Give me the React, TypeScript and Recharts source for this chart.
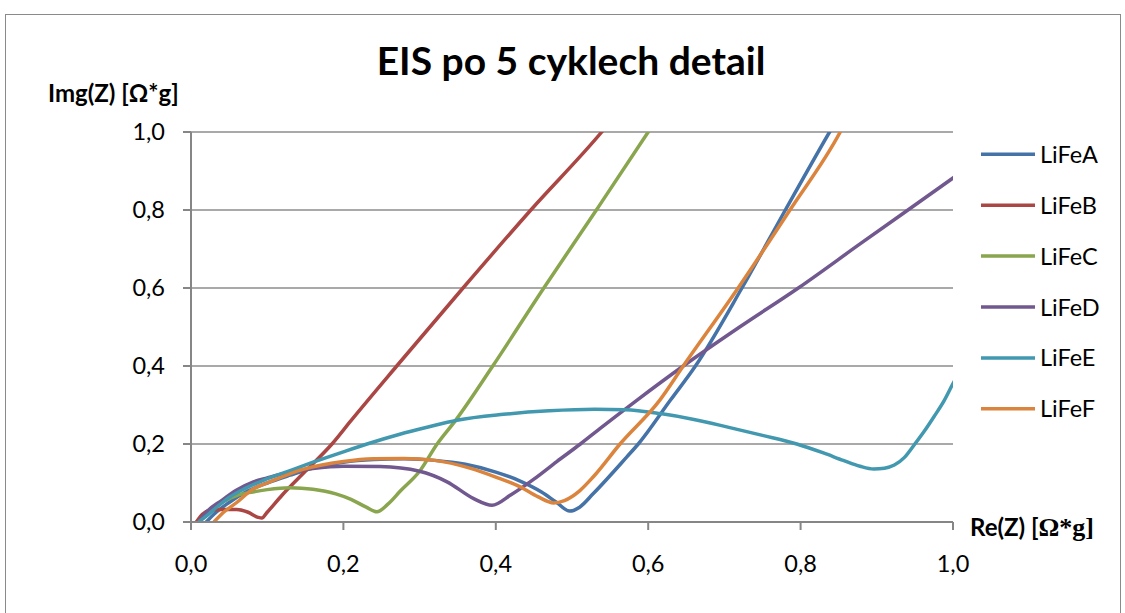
import { CartesianGrid, Line, LineChart, XAxis, YAxis } from "recharts";

// Nyquist data: [Re(Z), Img(Z)]
const lifeA: [number, number][] = [
  [0.02, 0], [0.03, 0.02], [0.05, 0.05], [0.07, 0.075], [0.1, 0.1], [0.13, 0.12], [0.16, 0.138],
  [0.2, 0.153], [0.24, 0.16], [0.28, 0.162], [0.32, 0.158], [0.36, 0.148], [0.4, 0.128],
  [0.432, 0.105], [0.46, 0.077], [0.48, 0.05], [0.497, 0.028], [0.51, 0.038], [0.528, 0.073],
  [0.572, 0.167], [0.587, 0.2], [0.629, 0.312], [0.662, 0.4], [0.723, 0.6], [0.78, 0.8],
  [0.838, 1.0], [0.85, 1.04],
];
const lifeB: [number, number][] = [
  [0.007, 0], [0.015, 0.02], [0.025, 0.03], [0.04, 0.032], [0.06, 0.032], [0.075, 0.025],
  [0.088, 0.012], [0.093, 0.01], [0.1, 0.025], [0.12, 0.07], [0.15, 0.13], [0.185, 0.2],
  [0.21, 0.26], [0.27, 0.4], [0.357, 0.6], [0.446, 0.8], [0.539, 1.0], [0.56, 1.05],
];
const lifeC: [number, number][] = [
  [0.01, 0], [0.02, 0.02], [0.04, 0.05], [0.06, 0.068], [0.081, 0.077], [0.1, 0.083], [0.13, 0.088],
  [0.16, 0.084], [0.19, 0.072], [0.21, 0.058], [0.23, 0.038], [0.244, 0.026], [0.258, 0.045],
  [0.275, 0.08], [0.3, 0.13], [0.323, 0.2], [0.347, 0.26], [0.396, 0.4], [0.463, 0.6],
  [0.532, 0.8], [0.6, 1.0], [0.62, 1.06],
];
const lifeD: [number, number][] = [
  [0.01, 0], [0.02, 0.025], [0.04, 0.055], [0.06, 0.082], [0.082, 0.103], [0.1, 0.113],
  [0.13, 0.128], [0.16, 0.137], [0.2, 0.143], [0.248, 0.142], [0.3, 0.13], [0.336, 0.103],
  [0.371, 0.06], [0.395, 0.043], [0.42, 0.07], [0.45, 0.11], [0.48, 0.155], [0.511, 0.2],
  [0.537, 0.24], [0.585, 0.312], [0.646, 0.4], [0.72, 0.5], [0.797, 0.6], [0.878, 0.713],
  [1.0, 0.882], [1.02, 0.91],
];
const lifeE: [number, number][] = [
  [0.01, 0], [0.02, 0.015], [0.035, 0.04], [0.051, 0.064], [0.07, 0.085], [0.095, 0.107],
  [0.13, 0.132], [0.161, 0.154], [0.2, 0.18], [0.231, 0.2], [0.274, 0.225], [0.31, 0.243],
  [0.349, 0.261], [0.41, 0.276], [0.47, 0.285], [0.53, 0.289], [0.57, 0.288], [0.616, 0.278],
  [0.66, 0.263], [0.703, 0.244], [0.75, 0.222], [0.795, 0.2], [0.83, 0.177], [0.856, 0.158],
  [0.878, 0.143], [0.896, 0.136], [0.91, 0.138], [0.923, 0.146], [0.936, 0.165], [0.948, 0.195],
  [0.962, 0.232], [0.975, 0.27], [0.988, 0.31], [1.0, 0.355], [1.01, 0.39],
];
const lifeF: [number, number][] = [
  [0.03, 0], [0.04, 0.02], [0.06, 0.05], [0.082, 0.085], [0.1, 0.1], [0.147, 0.135], [0.2, 0.155],
  [0.24, 0.162], [0.279, 0.163], [0.32, 0.158], [0.366, 0.138], [0.4, 0.115], [0.432, 0.09],
  [0.455, 0.065], [0.476, 0.049], [0.49, 0.055], [0.51, 0.08], [0.528, 0.116], [0.563, 0.2],
  [0.615, 0.312], [0.646, 0.4], [0.718, 0.6], [0.786, 0.8], [0.852, 1.0], [0.86, 1.03],
];

const seriesNames = ["LiFeA", "LiFeB", "LiFeC", "LiFeD", "LiFeE", "LiFeF"];
const seriesColors = ["#4572A7", "#AA4643", "#89A54E", "#71588F", "#4198AF", "#DB843D"];
const seriesData = [lifeA, lifeB, lifeC, lifeD, lifeE, lifeF];
const axisTicks = [0, 0.2, 0.4, 0.6, 0.8, 1.0];

const font = "Lato, 'Open Sans', sans-serif";
const axisGray = "#868686";
const tickStyle = { fill: "#000", fontSize: 23.5, fontFamily: font };
const fmt = (v: number) => v.toFixed(1).replace(".", ",");

export default function App() {
  return (
    <div style={{ position: "absolute", left: 0, top: 0, width: 1125, height: 613, overflow: "hidden", background: "#fff" }}>
      <div style={{ position: "absolute", left: 5, top: 14, width: 1116, height: 700, boxSizing: "border-box", border: "1px solid #8a8a8a" }}/>
      <LineChart width={1125} height={613} margin={{ top: 132, right: 172, bottom: 61, left: 131 }} style={{ position: "absolute", left: 0, top: 0 }}>
        <CartesianGrid vertical={false} stroke="#8c8c8c" strokeWidth={1.5}/>
        <XAxis type="number" dataKey="x" domain={[0, 1]} ticks={axisTicks} allowDataOverflow height={30}
          tickFormatter={fmt} stroke={axisGray} strokeWidth={2} tickSize={8} tickMargin={25} tick={tickStyle}/>
        <YAxis type="number" dataKey="y" domain={[0, 1]} ticks={axisTicks} allowDataOverflow width={60}
          tickFormatter={fmt} stroke={axisGray} strokeWidth={2} tickSize={8} tickMargin={18} tick={tickStyle}/>
        {seriesData.map((pts, i) => (
          <Line key={seriesNames[i]} name={seriesNames[i]} data={pts.map(([x, y]) => ({ x, y }))} dataKey="y"
            type="monotone" stroke={seriesColors[i]} strokeWidth={3.5} dot={false} isAnimationActive={false}/>
        ))}
      </LineChart>
      <svg width={1125} height={613} style={{ position: "absolute", left: 0, top: 0, pointerEvents: "none" }}>
        <text x={571} y={75} textAnchor="middle" fontFamily={font} fontWeight={700} fontSize={39}>EIS po 5 cyklech detail</text>
        <text x={48} y={102} fontFamily={font} fontWeight={700} fontSize={24}>Img(Z) [Ω*g]</text>
        <text x={970} y={536} fontFamily={font} fontWeight={700} fontSize={24}>
          Re(Z) [<tspan fontFamily="'Liberation Serif', serif" fontSize={26}>Ω*g]</tspan>
        </text>
        {seriesNames.map((name, i) => {
          const cy = 154.3 + i * 50.9;
          return (
            <g key={name}>
              <line x1={981} x2={1035} y1={cy} y2={cy} stroke={seriesColors[i]} strokeWidth={3.5}/>
              <text x={1040} y={cy + 8.5} fontFamily={font} fontSize={23.5}>{name}</text>
            </g>
          );
        })}
      </svg>
    </div>
  );
}
